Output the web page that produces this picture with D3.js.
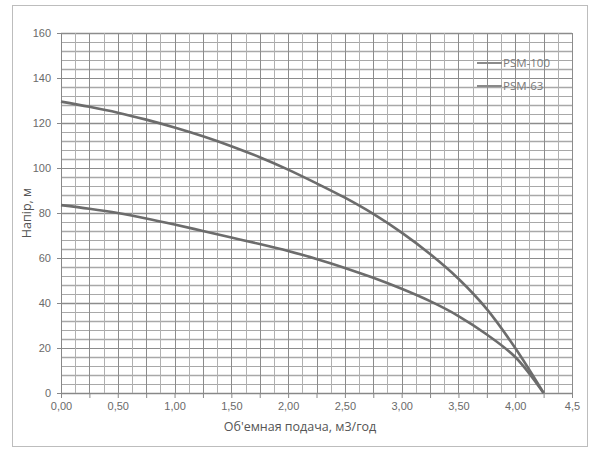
<!DOCTYPE html>
<html>
<head>
<meta charset="utf-8">
<script src="https://cdn.jsdelivr.net/npm/d3@7"></script>
<style>
  body { margin: 0; background: #fff; }
  svg { font-family: "Open Sans", "Liberation Sans", sans-serif; }
</style>
</head>
<body>
<div id="viz"></div>
<script>
// data
const flow = [0, 0.25, 0.5, 0.75, 1.0, 1.25, 1.5, 1.75, 2.0, 2.25, 2.5, 2.75, 3.0, 3.25, 3.5, 3.75, 4.0, 4.25];
const psm100 = [129.5, 127.2, 124.6, 121.5, 118, 114.1, 109.7, 104.8, 99.3, 93.2, 86.8, 79.6, 71.3, 61.8, 50.8, 37.3, 20, 0];
const psm63 = [83.5, 81.9, 80, 77.6, 74.9, 72, 69.1, 66.2, 63.1, 59.6, 55.6, 51.2, 46.3, 40.8, 34.2, 26, 16, 0];
const seriesNames = ["PSM-100", "PSM-63"];
const xTicks = [0, 0.5, 1, 1.5, 2, 2.5, 3, 3.5, 4, 4.5];
const xTickLabels = ["0,00", "0,50", "1,00", "1,50", "2,00", "2,50", "3,00", "3,50", "4,00", "4,5"];
const yTicks = [0, 20, 40, 60, 80, 100, 120, 140, 160];

// dimensions of svg and plot area
const width = 595
const height = 450
const margin = {left: 61, top: 33, right: 23, bottom: 57}
const g_width = width - margin.left - margin.right;
const g_height = height - margin.top - margin.bottom;

var root = d3.select("#viz")
        .append("svg")
        .attr("width", width)
        .attr("height", height);

// outer chart frame
root.append("rect")
    .attr("x", 12.5)
    .attr("y", 5.5)
    .attr("width", 575)
    .attr("height", 441)
    .attr("fill", "none")
    .attr("stroke", "#bdbdbd");

var svg = root.append("g")
        .attr("transform", "translate(" + margin.left + "," + margin.top + ")");

const x = d3.scaleLinear().domain([0, 4.5]).range([0, g_width]);
const y = d3.scaleLinear().domain([0, 160]).range([g_height, 0]);

// minor grid: every 4 m and every 0.125 m3/h
svg.append("g")
    .selectAll("line")
    .data(d3.range(0, 161, 4))
    .enter()
    .append("line")
    .attr("x1", 0)
    .attr("x2", g_width)
    .attr("y1", d => Math.round(y(d)) + 0.5)
    .attr("y2", d => Math.round(y(d)) + 0.5)
    .style("stroke", d => d % 20 == 0 ? "#8c8c8c" : "#a8a8a8")
    .style("stroke-width", d => d % 8 == 0 ? 1.4 : 1);

svg.append("g")
    .selectAll("line")
    .data(d3.range(0, 37).map(i => i * 0.125))
    .enter()
    .append("line")
    .attr("y1", 0)
    .attr("y2", g_height)
    .attr("x1", d => Math.round(x(d)) + 0.5)
    .attr("x2", d => Math.round(x(d)) + 0.5)
    .style("stroke", d => (d * 4) % 1 == 0 ? "#8c8c8c" : "#b0b0b0")
    .style("stroke-width", 1);

// x axis
const xAxis = svg.append("g")
    .attr("transform", "translate(0," + g_height + ")")
    .call(d3.axisBottom(x)
        .tickValues(d3.range(0, 19).map(i => i * 0.25))
        .tickSize(5)
        .tickFormat(d => {
            const i = xTicks.indexOf(d);
            return i >= 0 ? xTickLabels[i] : "";
        }));
xAxis.select(".domain").style("stroke", "#888");
xAxis.selectAll(".tick line").style("stroke", "#888");
xAxis.selectAll("text")
    .style("font-size", "11px")
    .style("fill", "#6a6a6a")
    .attr("dy", "0.85em");

// y axis
const yAxis = svg.append("g")
    .call(d3.axisLeft(y).tickValues(yTicks).tickSize(4).tickPadding(6));
yAxis.select(".domain").style("stroke", "#888");
yAxis.selectAll(".tick line").style("stroke", "#888");
yAxis.selectAll("text")
    .style("font-size", "11px")
    .style("fill", "#6a6a6a");

// axis labels
root.append("text")
    .attr("x", 300)
    .attr("y", 431)
    .attr("text-anchor", "middle")
    .style("font-size", "12.5px")
    .style("fill", "#555")
    .text("Об'емная подача, м3/год");

root.append("text")
    .attr("transform", "translate(31," + (margin.top + g_height / 2) + ") rotate(-90)")
    .attr("text-anchor", "middle")
    .style("font-size", "12.5px")
    .style("fill", "#555")
    .text("Напір, м");

// curves
const series = [psm100, psm63];
const line = d3.line()
    .x((d, i) => x(flow[i]))
    .y(d => y(d))
    .curve(d3.curveCatmullRom.alpha(0.5));

svg.selectAll(".curve")
    .data(series)
    .enter()
    .append("path")
    .attr("class", "curve")
    .attr("d", d => line(d))
    .attr("fill", "none")
    .attr("stroke", "#6c6c6c")
    .attr("stroke-width", 2.6);

// legend
const legend = root.append("g")
    .selectAll("g")
    .data(seriesNames)
    .enter()
    .append("g")
    .attr("transform", (d, i) => "translate(477," + (63 + i * 23) + ")");

legend.append("line")
    .attr("x1", 0)
    .attr("x2", 25)
    .style("stroke", "#8a8a8a")
    .style("stroke-width", 2);

legend.append("text")
    .attr("x", 26)
    .attr("dy", "0.35em")
    .style("font-size", "11.5px")
    .style("fill", "#7a7a7a")
    .text(d => d);
</script>
</body>
</html>
